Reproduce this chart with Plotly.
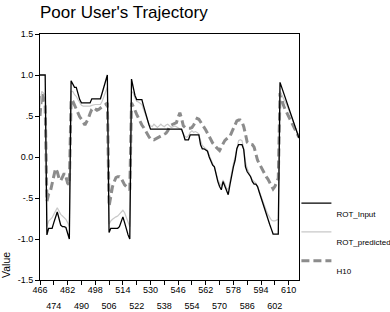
import plotly.graph_objects as go

x_vals = list(range(466, 617))

rot_input = [
    1.0, 1.0, 1.0, 1.0,
    -0.95, -0.87, -0.87, -0.87, -0.80, -0.72, -0.67, -0.75, -0.83, -0.85, -0.85, -0.86, -0.93, -1.0,
    0.93, 0.88, 0.85, 0.85, 0.77, 0.70, 0.66, 0.66, 0.66, 0.66, 0.66, 0.66, 0.71, 0.71, 0.71, 0.71, 0.71, 0.71, 0.78, 0.85, 0.93, 1.0,
    -0.92, -0.87, -0.87, -0.87, -0.87, -0.87, -0.85, -0.78, -0.73, -0.80, -0.88, -0.95, -1.0,
    0.95, 0.85, 0.75, 0.70, 0.70, 0.70, 0.70, 0.62, 0.54, 0.47, 0.40, 0.34,
    0.34, 0.34, 0.34, 0.34, 0.34, 0.34, 0.34, 0.34, 0.34, 0.34, 0.34, 0.34, 0.34, 0.34, 0.34, 0.34, 0.34, 0.34,
    0.28, 0.21, 0.21, 0.21, 0.27, 0.27, 0.27, 0.27, 0.27, 0.27,
    0.15, 0.10, 0.10, 0.08, 0.07, 0.0, -0.06, -0.10, -0.12, -0.22, -0.30, -0.36, -0.40, -0.30, -0.36, -0.42,
    -0.46, -0.34, -0.22, -0.12, -0.04, 0.10, 0.15, 0.15, 0.15, 0.09,
    -0.12, -0.18, -0.21, -0.24, -0.30, -0.33, -0.33, -0.36, -0.43, -0.50, -0.57, -0.63, -0.68, -0.75, -0.82,
    -0.88, -0.94, -0.94, -0.94, -0.94,
    0.91, 0.85, 0.79, 0.73, 0.67, 0.60, 0.54, 0.48, 0.42, 0.35, 0.29, 0.23,
]

rot_predicted = [
    0.60, 0.80, 0.78, 0.76,
    -0.85, -0.78, -0.76, -0.74, -0.70, -0.65, -0.62, -0.66, -0.70, -0.72, -0.74, -0.76, -0.80, -0.85,
    0.80, 0.80, 0.76, 0.74, 0.70, 0.66, 0.63, 0.62, 0.62, 0.62, 0.62, 0.62, 0.63, 0.64, 0.64, 0.64, 0.64, 0.64, 0.68, 0.74, 0.80, 0.85,
    -0.82, -0.78, -0.76, -0.74, -0.73, -0.72, -0.70, -0.67, -0.65, -0.68, -0.74, -0.80, -0.85,
    0.80, 0.78, 0.72, 0.68, 0.67, 0.66, 0.64, 0.58, 0.52, 0.46, 0.41, 0.38,
    0.37, 0.40, 0.38, 0.36, 0.38, 0.40, 0.38, 0.37, 0.39, 0.40, 0.38, 0.36, 0.37, 0.38, 0.37, 0.36, 0.35, 0.33,
    0.28, 0.25, 0.24, 0.26, 0.30, 0.32, 0.30, 0.31, 0.30, 0.28,
    0.20, 0.14, 0.12, 0.10, 0.08, 0.02, -0.04, -0.08, -0.12, -0.20, -0.28, -0.32, -0.36, -0.28, -0.32, -0.38,
    -0.40, -0.30, -0.18, -0.08, 0.0, 0.12, 0.20, 0.21, 0.20, 0.10,
    -0.06, -0.14, -0.20, -0.24, -0.28, -0.30, -0.32, -0.36, -0.42, -0.48, -0.55, -0.60, -0.65, -0.70, -0.74,
    -0.77, -0.78, -0.78, -0.77, -0.76,
    0.80, 0.76, 0.72, 0.68, 0.63, 0.58, 0.52, 0.46, 0.40, 0.34, 0.29, 0.24,
]

h10 = [
    0.50, 0.78, 0.72, 0.62,
    -0.54, -0.45, -0.42, -0.32, -0.20, -0.14, -0.18, -0.26, -0.29, -0.24, -0.20, -0.24, -0.32, -0.34,
    0.70, 0.68, 0.63, 0.58, 0.52, 0.49, 0.46, 0.43, 0.39, 0.43, 0.47, 0.53, 0.58, 0.60, 0.58, 0.57, 0.58, 0.60, 0.62, 0.63, 0.64, 0.66,
    -0.60, -0.48, -0.36, -0.30, -0.25, -0.24, -0.24, -0.26, -0.30, -0.34, -0.36, -0.38, -0.40,
    0.66, 0.62, 0.57, 0.52, 0.47, 0.43, 0.39, 0.36, 0.32, 0.28, 0.25, 0.22,
    0.22, 0.21, 0.22, 0.24, 0.25, 0.26, 0.27, 0.28, 0.29, 0.32, 0.37, 0.39, 0.40, 0.40, 0.42, 0.48, 0.54, 0.47,
    0.38, 0.36, 0.35, 0.35, 0.35, 0.36, 0.39, 0.44, 0.47, 0.46,
    0.43, 0.40, 0.36, 0.33, 0.29, 0.24, 0.21, 0.17, 0.14, 0.12, 0.10, 0.08, 0.12, 0.16, 0.20, 0.22,
    0.24, 0.25, 0.30, 0.35, 0.40, 0.44, 0.45, 0.45, 0.43, 0.37,
    0.28, 0.18, 0.16, 0.15, 0.15, 0.12, 0.04, -0.04, -0.08, -0.12, -0.17, -0.21, -0.24, -0.27, -0.31,
    -0.35, -0.39, -0.36, -0.30, -0.26,
    0.78, 0.70, 0.63, 0.58, 0.54, 0.50, 0.45, 0.41, 0.37, 0.33, 0.28, 0.24,
]

x_ticks_top = [466, 482, 498, 514, 530, 546, 562, 578, 594, 610]
x_ticks_bottom = [474, 490, 506, 522, 538, 554, 570, 586, 602]
y_ticks = [-1.5, -1.0, -0.5, 0.0, 0.5, 1.0, 1.5]
y_ticktext = ["-1.5", "-1.0", "-.5", "0.0", ".5", "1.0", "1.5"]

FONT = "Liberation Sans, Arial, sans-serif"

fig = go.Figure()
fig.add_trace(go.Scatter(x=x_vals, y=h10, mode="lines", name="<br>H10", legendrank=3, legendgroup="c",
                         line=dict(color="#8c8c8c", width=3, dash="8px,4px")))
fig.add_trace(go.Scatter(x=x_vals, y=rot_predicted, mode="lines", name="<br>ROT_predicted", legendrank=2,
                         legendgroup="b", line=dict(color="#c8c8c8", width=1.2)))
fig.add_trace(go.Scatter(x=x_vals, y=rot_input, mode="lines", name="<br>ROT_Input", legendrank=1,
                         legendgroup="a", xaxis="x2", yaxis="y",
                         line=dict(color="#000000", width=1.3)))

all_ticks = sorted(x_ticks_top + x_ticks_bottom)
top_text = [str(v) if v in x_ticks_top else "" for v in all_ticks]

fig.update_layout(
    width=390, height=312,
    margin=dict(l=40, r=91, t=34, b=32, autoexpand=False),
    paper_bgcolor="white", plot_bgcolor="white",
    font=dict(family=FONT, color="black", size=9),
    title=dict(text="Poor User's Trajectory", x=40/390, xref="container", xanchor="left",
               y=0.962, yanchor="middle", font=dict(size=17, family=FONT, color="black")),
    xaxis=dict(range=[466, 616], tickmode="array", tickvals=all_ticks, ticktext=top_text,
               ticks="outside", ticklen=4, tickcolor="black", showline=True, linecolor="black",
               linewidth=1, mirror=True, showgrid=False, zeroline=False, ticklabelstandoff=-3,
               tickfont=dict(size=9, family=FONT, color="black")),
    xaxis2=dict(range=[466, 616], overlaying="x", anchor="y", side="bottom",
                tickmode="array", tickvals=x_ticks_bottom, ticktext=[str(v) for v in x_ticks_bottom],
                ticks="", showline=False, showgrid=False, zeroline=False,
                ticklabelstandoff=19, tickfont=dict(size=9, family=FONT, color="black")),
    yaxis=dict(range=[-1.5, 1.5], tickmode="array", tickvals=y_ticks, ticktext=y_ticktext,
               ticks="outside", ticklen=4, tickcolor="black", showline=True, linecolor="black",
               linewidth=1, mirror=True, showgrid=False, zeroline=False,
               tickfont=dict(size=9, family=FONT, color="black")),
    legend=dict(x=0.99, xanchor="left", y=0.36, yanchor="top", valign="top",
                font=dict(size=8, family=FONT, color="black"), bgcolor="rgba(0,0,0,0)",
                tracegroupgap=5),
    annotations=[dict(text="Value", textangle=-90, xref="paper", yref="paper", x=0, y=0.061,
                      xanchor="center", yanchor="middle", xshift=-34, showarrow=False,
                      font=dict(size=10.5, family=FONT, color="black"))],
)

fig.write_html("out.html")
